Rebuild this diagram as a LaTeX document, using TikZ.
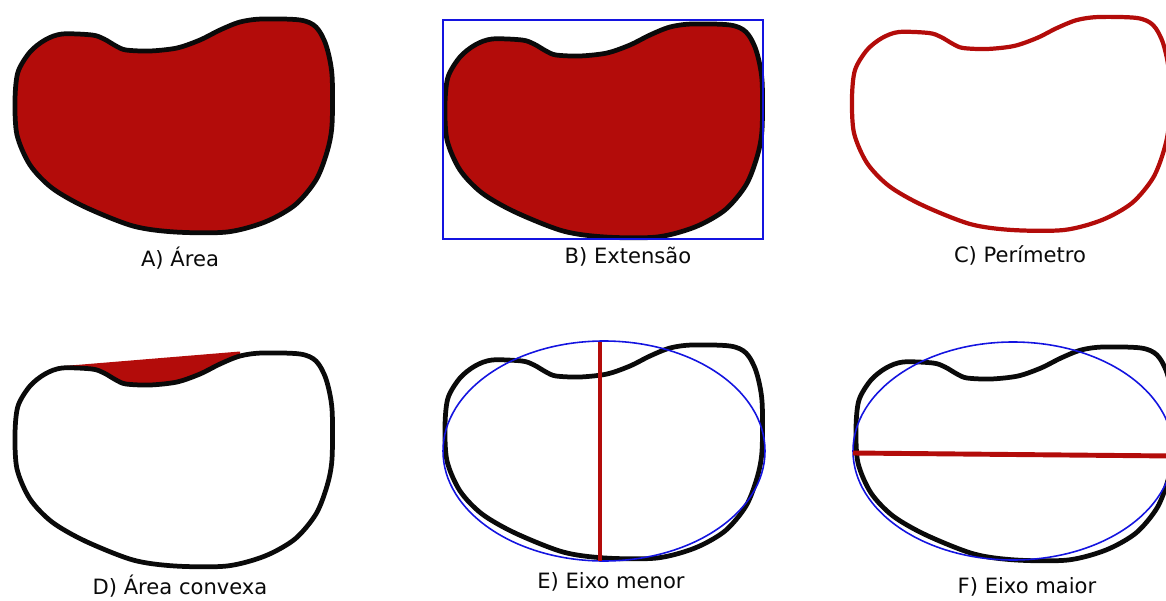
\documentclass[tikz,border=0pt]{standalone}
\usepackage{fontspec}
\setmainfont{DejaVu Sans}
\usetikzlibrary{positioning}
\definecolor{blood}{HTML}{B30C0A}
\definecolor{ink}{HTML}{0A0A0A}
\definecolor{hull}{HTML}{1414E0}
\tikzset{
  outline/.style={line width=2.7pt,draw=ink,line join=round},
  region/.style={outline,fill=blood},
  hollow/.style={outline,fill=white},
  rim/.style={line width=2.4pt,draw=blood,line join=round},
  frame/.style={draw=hull,line width=1.1pt},
  fitellipse/.style={draw=hull,line width=0.9pt},
  axis/.style={draw=blood,line width=2.8pt},
  caption/.style={font=\fontsize{12}{14}\selectfont,text=ink,inner sep=0pt},
}
\begin{document}
\begin{tikzpicture}[x=0.02cm,y=-0.02cm]
    \useasboundingbox (0,0) rectangle (1166,601);
    \clip (0,0) rectangle (1166,601);
    % convex hull gap, under the white shape
    \fill[blood] (58,366.5) -- (240,351.5) -- (240,400) -- (58,400) -- cycle;
    % the six shapes
    \foreach \dx/\dy/\look in {0/0/region,430/5/region,837/-2/rim,0/334/hollow,430/326/hollow,841/328/hollow}
      \path[\look,shift={(\dx,\dy)}] plot[smooth cycle,tension=0.5] coordinates {
        (15,100) (18,72) (30,52) (45,40) (62,34) (92,35) (104,39) (116,46) (126,50)
        (150,51) (177,48) (200,40) (220,30) (240,22) (262,19) (300,20) (316,27)
        (326,45) (332,75) (332,125) (327,152) (316,180) (295,205) (265,222)
        (227,232) (175,232) (133,226) (85,207) (52,188) (30,165) (17,135)};
    \draw[frame] (443,20) rectangle (763,239);
    \draw[fitellipse] (604,451) ellipse [x radius=161,y radius=110];
    \draw[fitellipse] (1013,451) ellipse [x radius=160,y radius=109];
    \coordinate (e top) at (600,342);
    \coordinate (e bot) at (600,561);
    \coordinate (f left) at (853,453);
    \coordinate (f right) at (1172,456);
    \draw[axis] (e top) -- (e bot);
    \draw[axis] (f left) -- (f right);
    \node[caption] (la) at (180,258) {A) Área};
    \node[caption] (lb) at (628,257) {B) Extensão};
    \node[caption] (lc) at (1020,255) {C) Perímetro};
    \node[caption] (ld) at (180,586) {D) Área convexa};
    \node[caption] (le) at (611,582) {E) Eixo menor};
    \node[caption] (lf) at (1027,587) {F) Eixo maior};
\end{tikzpicture}
\end{document}
